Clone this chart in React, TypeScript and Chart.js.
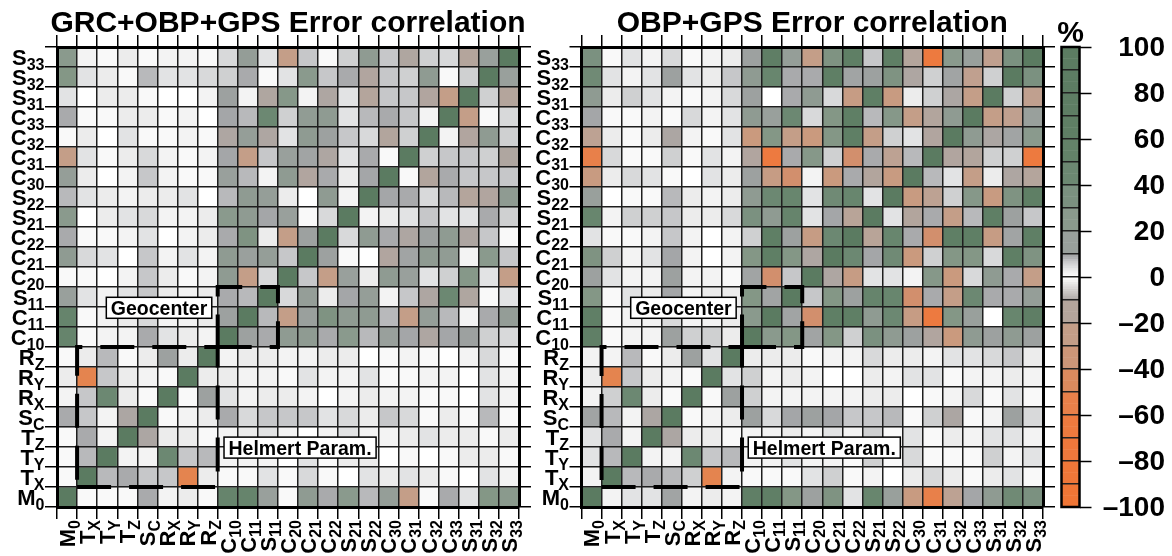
import React, { useEffect, useRef } from 'react';
import { Chart, registerables } from 'chart.js';

Chart.register(...registerables);

// ---------------- data ----------------
const PARAM_MAIN = ['M', 'T', 'T', 'T', 'S', 'R', 'R', 'R', 'C', 'C', 'S', 'C', 'C', 'C', 'S', 'S', 'C', 'C', 'C', 'C', 'S', 'S', 'S'];
const PARAM_SUB = ['0', 'X', 'Y', 'Z', 'C', 'X', 'Y', 'Z', '10', '11', '11', '20', '21', '22', '21', '22', '30', '31', '32', '33', '31', '32', '33'];

const GRC_TITLE = 'GRC+OBP+GPS Error correlation';
const OBP_TITLE = 'OBP+GPS Error correlation';

// lower triangle of the correlation matrix in %, row i = parameter i, columns 0..i
const GRC_ROWS: number[][] = [
  [100],
  [1, 100],
  [1, 8, 100],
  [1, 9, 2, 100],
  [9, 7, 2, -10, 100],
  [2, 7, 45, 3, 1, 100],
  [3, -50, 7, 3, 2, 1, 100],
  [1, 3, 8, 1, 3, 12, 3, 100],
  [50, 1, 2, 2, 9, 4, 3, 2, 100],
  [50, 1, 2, 3, 5, 2, 2, 3, 12, 100],
  [15, 4, 2, 4, 7, 3, 2, 3, 9, 8, 100],
  [1, 1, 0, 2, 7, 3, 1, 2, 22, -25, 5, 100],
  [22, 5, 4, 0, 7, 2, 4, 2, 22, 14, 17, 7, 100],
  [9, 1, 1, 2, 4, 0, 2, 3, 9, 33, 3, -25, 12, 100],
  [25, 0, 3, 4, 5, 2, 2, 3, 25, 22, 10, 15, 1, 5, 100],
  [8, 4, 3, 2, 3, 3, 4, 0, 8, 22, 17, 3, 0, 22, 2, 100],
  [17, 3, 0, 2, 7, 2, 1, 1, 15, 8, 2, 22, -13, 9, 3, 10, 100],
  [-25, 4, 1, 3, 5, 2, 1, 2, 10, -25, 7, 15, 11, -11, 4, 9, 1, 100],
  [1, 3, 0, 4, 1, 1, 2, 1, -11, 17, -11, 4, 22, 12, 7, 5, -14, 6, 100],
  [9, 1, 1, 3, 3, 1, 2, 0, 10, 8, 45, 6, 20, 22, 4, 8, 9, 7, 2, 100],
  [4, 0, 3, 3, 1, 0, 0, 2, 12, 2, -12, 28, 2, -11, 4, -15, 7, 7, -13, -25, 100],
  [30, 4, 3, 1, 8, 4, 4, 5, 6, 9, 1, 4, 25, 7, 9, -13, 7, 6, 22, 1, 6, 100],
  [25, 2, 1, 3, 1, 2, 2, 1, 5, 18, 4, -25, 7, 1, 6, 22, 7, -12, 6, 5, -15, 15, 100],
];

const OBP_ROWS: number[][] = [
  [100],
  [2, 100],
  [4, 8, 100],
  [4, 9, 2, 100],
  [11, 8, 2, -10, 100],
  [2, 6, 45, 3, 1, 100],
  [3, -50, 7, 3, 2, 1, 100],
  [2, 2, 8, 1, 3, 12, 4, 100],
  [62, 1, 2, 2, 12, 6, 6, 3, 100],
  [62, 1, 2, 2, 5, 2, 2, 3, 25, 100],
  [30, 1, 4, 3, 10, 2, 3, 3, 30, 11, 100],
  [12, 4, 2, 2, 12, 2, 2, 1, 11, -40, 7, 100],
  [33, 6, 2, 4, 10, 2, 0, 2, 30, 65, 30, -11, 100],
  [4, 1, 1, 2, 7, 2, 0, 2, 6, 65, 12, -28, 45, 100],
  [48, 2, 6, 6, 7, 3, 3, 5, 35, 22, 50, 4, 10, -17, 100],
  [15, 0, 1, 1, 8, 3, 2, 3, 22, 45, 48, 4, 42, 48, 4, 100],
  [-30, 3, 5, 4, 1, 0, 4, 3, 12, -28, -40, 2, -32, 9, -14, -30, 100],
  [-55, 5, 1, 1, 6, 1, 4, 2, -13, -62, 9, 28, 6, -40, 9, -20, 8, 100],
  [-20, 3, 1, 3, -10, 2, 1, 4, -32, 30, -25, -32, 30, 65, -25, 6, 4, -13, 100],
  [10, 1, 1, 2, 1, 5, 2, 4, 22, 15, 45, 5, 30, 65, 8, 28, -25, -14, 22, 100],
  [22, 3, 6, 4, 2, 1, 2, 5, 12, 0, 9, 22, 5, -28, 65, -30, 3, 6, -10, -25, 100],
  [42, 4, 2, 4, 12, 4, 3, 7, 22, 48, 9, 9, 65, 11, 12, 33, -11, 6, 11, -22, 6, 100],
  [35, 1, 4, 2, 5, 1, 2, 3, 12, 70, 17, -25, 33, 65, 7, 65, -15, -65, 25, 15, -22, 35, 100],
];

const COLORBAR_TICKS = [100, 80, 60, 40, 20, 0, -20, -40, -60, -80, -100];
const COLORBAR_MIN = -100;
const COLORBAR_MAX = 100;
const COLORBAR_BIN = 10;

// annotation boxes (parameter-index ranges) and their labels
const GEOCENTER_RANGE = [8, 11];
const HELMERT_RANGE = [1, 8];
const GEOCENTER_LABEL = { text: 'Geocenter', x: 5.08, y: 9.96 };
const HELMERT_LABEL = { text: 'Helmert Param.', x: 12.1, y: 2.97 };

// ---------------- style ----------------
const FONT = '"Liberation Sans", Arial, Helvetica, sans-serif';
const CMAP_STOPS: Array<[number, string]> = [
  [-100, '#ef7535'], [-62, '#ed7a40'], [-55, '#e8804a'], [-50, '#e4844f'], [-40, '#d28f6d'],
  [-32, '#ca9a7e'], [-28, '#c69c84'], [-25, '#c49e88'], [-20, '#bda293'], [-15, '#b4a59c'],
  [-10, '#aca6a3'], [0, '#ffffff'], [1, '#f9f9f9'], [2, '#f3f3f3'], [3, '#ececec'],
  [4, '#e2e3e4'], [5, '#d8d9da'], [6, '#cfd0d1'], [7, '#c6c7c9'], [8, '#b8b9bb'],
  [9, '#a9aaac'], [10, '#a4a6a8'], [12, '#9da1a0'], [15, '#99a09c'], [17, '#959e98'],
  [22, '#8f9b92'], [25, '#8a9a8d'], [30, '#849786'], [35, '#7b9180'], [42, '#708a75'],
  [45, '#6c8872'], [50, '#66846c'], [60, '#607f66'], [100, '#5b7b61'],
];

const LABEL_MAIN_PX = 22;
const LABEL_SUB_PX = 16;

function hex(h: string) {
  return [parseInt(h.slice(1, 3), 16), parseInt(h.slice(3, 5), 16), parseInt(h.slice(5, 7), 16)];
}
function cmap(v: number): string {
  const s = CMAP_STOPS;
  if (v <= s[0][0]) return s[0][1];
  for (let k = 1; k < s.length; k++) {
    if (v <= s[k][0]) {
      const t = (v - s[k - 1][0]) / (s[k][0] - s[k - 1][0]);
      const a = hex(s[k - 1][1]);
      const b = hex(s[k][1]);
      const c = a.map((q, i) => Math.round(q + (b[i] - q) * t));
      return `rgb(${c[0]},${c[1]},${c[2]})`;
    }
  }
  return s[s.length - 1][1];
}

function corr(rows: number[][], i: number, j: number) {
  return i >= j ? rows[i][j] : rows[j][i];
}

function drawSubLabel(ctx: CanvasRenderingContext2D, main: string, sub: string, x: number, y: number) {
  // right-aligned at x, main glyph vertically centred on y
  ctx.font = `bold ${LABEL_MAIN_PX}px ${FONT}`;
  const wm = ctx.measureText(main).width;
  ctx.font = `bold ${LABEL_SUB_PX}px ${FONT}`;
  const ws = ctx.measureText(sub).width;
  const x0 = x - wm - ws;
  const base = y + LABEL_MAIN_PX * 0.36;
  ctx.textAlign = 'left';
  ctx.textBaseline = 'alphabetic';
  ctx.fillStyle = '#000';
  ctx.font = `bold ${LABEL_MAIN_PX}px ${FONT}`;
  ctx.fillText(main, x0, base);
  ctx.font = `bold ${LABEL_SUB_PX}px ${FONT}`;
  ctx.fillText(sub, x0 + wm, base + 5);
}

function drawDashedBox(ctx: CanvasRenderingContext2D, xs: any, ys: any, r: number[]) {
  const x0 = xs.getPixelForValue(r[0]);
  const x1 = xs.getPixelForValue(r[1]);
  const y0 = ys.getPixelForValue(r[0]);
  const y1 = ys.getPixelForValue(r[1]);
  ctx.save();
  ctx.setLineDash([34, 18]);
  ctx.lineWidth = 4;
  ctx.strokeStyle = '#000';
  ctx.lineCap = 'butt';
  ctx.beginPath();
  ctx.moveTo(x0, y0);
  ctx.lineTo(x1, y0);
  ctx.lineTo(x1, y1);
  ctx.lineTo(x0, y1);
  ctx.lineTo(x0, y0);
  ctx.stroke();
  ctx.restore();
}

function drawBoxLabel(ctx: CanvasRenderingContext2D, text: string, cx: number, cy: number) {
  ctx.save();
  ctx.font = `bold 19.5px ${FONT}`;
  const w = ctx.measureText(text).width;
  const padX = 4.5;
  const h = 21;
  ctx.fillStyle = '#fff';
  ctx.fillRect(cx - w / 2 - padX, cy - h / 2, w + 2 * padX, h);
  ctx.strokeStyle = '#000';
  ctx.lineWidth = 1.5;
  ctx.strokeRect(cx - w / 2 - padX, cy - h / 2, w + 2 * padX, h);
  ctx.fillStyle = '#000';
  ctx.textAlign = 'center';
  ctx.textBaseline = 'alphabetic';
  ctx.fillText(text, cx, cy + 7);
  ctx.restore();
}

type Geom = { left: number; right: number; top: number; bottom: number };

function matrixConfig(rows: number[][], title: string, geom: Geom): any {
  const N = PARAM_MAIN.length;
  const cells: any[] = [];
  for (let i = 0; i < N; i++) {
    for (let j = 0; j < N; j++) {
      cells.push({ x: j + 0.5, y: [i, i + 1], v: corr(rows, i, j) });
    }
  }
  const setTicks = (s: any) => {
    s.ticks = Array.from({ length: N + 1 }, (_, k) => ({ value: k }));
  };
  const mainGrid = {
    display: true, drawOnChartArea: true, drawTicks: true, tickLength: 12,
    color: '#1e1e1e', lineWidth: 1.5, tickColor: '#000', tickWidth: 1.5, offset: false, z: 1,
  };
  const outerGrid = { ...mainGrid, drawOnChartArea: false };
  const border = { display: true, color: '#000', width: 3, z: 2 };
  const ticks = { display: false, autoSkip: false };
  const decor = {
    id: 'decor',
    afterDraw(chart: any) {
      const ctx: CanvasRenderingContext2D = chart.ctx;
      const xs = chart.scales.x;
      const ys = chart.scales.y;
      const a = chart.chartArea;
      ctx.save();
      drawDashedBox(ctx, xs, ys, HELMERT_RANGE);
      drawDashedBox(ctx, xs, ys, GEOCENTER_RANGE);
      drawBoxLabel(ctx, GEOCENTER_LABEL.text, xs.getPixelForValue(GEOCENTER_LABEL.x), ys.getPixelForValue(GEOCENTER_LABEL.y));
      drawBoxLabel(ctx, HELMERT_LABEL.text, xs.getPixelForValue(HELMERT_LABEL.x), ys.getPixelForValue(HELMERT_LABEL.y));
      // title
      ctx.fillStyle = '#000';
      ctx.font = `bold 30px ${FONT}`;
      ctx.textAlign = 'center';
      ctx.textBaseline = 'alphabetic';
      ctx.fillText(title, (a.left + a.right) / 2, 32);
      // y labels
      for (let i = 0; i < N; i++) {
        drawSubLabel(ctx, PARAM_MAIN[i], PARAM_SUB[i], a.left - 12.5, ys.getPixelForValue(i + 0.5));
      }
      // x labels (rotated)
      for (let j = 0; j < N; j++) {
        ctx.save();
        ctx.translate(xs.getPixelForValue(j + 0.5), a.bottom + 13);
        ctx.rotate(-Math.PI / 2);
        drawSubLabel(ctx, PARAM_MAIN[j], PARAM_SUB[j], 0, 0);
        ctx.restore();
      }
      ctx.restore();
    },
  };
  return {
    type: 'bar',
    data: {
      datasets: [{
        data: cells,
        backgroundColor: cells.map((c) => cmap(c.v)),
        borderWidth: 0,
        barPercentage: 1,
        categoryPercentage: 1,
        grouped: false,
      }],
    },
    options: {
      animation: false,
      responsive: false,
      maintainAspectRatio: false,
      events: [],
      layout: { padding: 0 },
      plugins: { legend: { display: false }, tooltip: { enabled: false }, title: { display: false } },
      scales: {
        x: { type: 'linear', axis: 'x', position: 'bottom', min: 0, max: N, offset: false, grid: mainGrid, border, ticks, afterBuildTicks: setTicks, afterFit: (s: any) => { s.height = geom.bottom; } },
        xTop: { type: 'linear', axis: 'x', position: 'top', min: 0, max: N, offset: false, grid: outerGrid, border, ticks, afterBuildTicks: setTicks, afterFit: (s: any) => { s.height = geom.top; } },
        y: { type: 'linear', axis: 'y', position: 'left', min: 0, max: N, offset: false, beginAtZero: false, grid: mainGrid, border, ticks, afterBuildTicks: setTicks, afterFit: (s: any) => { s.width = geom.left; } },
        yRight: { type: 'linear', axis: 'y', position: 'right', min: 0, max: N, offset: false, grid: outerGrid, border, ticks, afterBuildTicks: setTicks, afterFit: (s: any) => { s.width = geom.right; } },
      },
    },
    plugins: [decor],
  };
}

function colorbarConfig(): any {
  const rep = (v: number) => (Math.abs(v) < COLORBAR_BIN ? v : Math.sign(v) * (Math.floor(Math.abs(v) / COLORBAR_BIN) * COLORBAR_BIN + COLORBAR_BIN / 2));
  const segs: any[] = [];
  for (let v = COLORBAR_MIN; v < COLORBAR_MAX; v++) segs.push({ x: 'cb', y: [v, v + 1], c: cmap(rep(v + 0.5)) });
  const decor = {
    id: 'cbdecor',
    afterDraw(chart: any) {
      const ctx: CanvasRenderingContext2D = chart.ctx;
      const a = chart.chartArea;
      const ys = chart.scales.yR;
      ctx.save();
      ctx.strokeStyle = '#000';
      ctx.lineWidth = 2.5;
      ctx.strokeRect(a.left, a.top, a.right - a.left, a.bottom - a.top);
      ctx.fillStyle = '#000';
      ctx.font = `bold 28px ${FONT}`;
      ctx.textAlign = 'right';
      ctx.textBaseline = 'middle';
      for (const t of COLORBAR_TICKS) {
        const txt = t < 0 ? '\u2013' + Math.abs(t) : String(t);
        ctx.fillText(txt, 115, ys.getPixelForValue(t) + 1);
      }
      ctx.font = `bold 30px ${FONT}`;
      ctx.textAlign = 'center';
      ctx.textBaseline = 'alphabetic';
      ctx.fillText('%', (a.left + a.right) / 2, 42);
      ctx.restore();
    },
  };
  return {
    type: 'bar',
    data: {
      labels: ['cb'],
      datasets: [{ data: segs, backgroundColor: segs.map((s) => s.c), borderWidth: 0, barPercentage: 1, categoryPercentage: 1 }],
    },
    options: {
      animation: false,
      responsive: false,
      maintainAspectRatio: false,
      events: [],
      layout: { padding: { top: 47, bottom: 49, left: 0, right: 0 } },
      plugins: { legend: { display: false }, tooltip: { enabled: false } },
      scales: {
        x: { type: 'category', display: false },
        y: {
          type: 'linear', position: 'left', min: COLORBAR_MIN, max: COLORBAR_MAX,
          ticks: { display: false },
          afterBuildTicks: (s: any) => { s.ticks = Array.from({ length: 21 }, (_, k) => ({ value: COLORBAR_MIN + k * COLORBAR_BIN })); },
          grid: { display: true, drawOnChartArea: true, drawTicks: false, color: '#222', lineWidth: 1.5, z: 1 },
          border: { display: false },
          afterFit: (s: any) => { s.width = 11.5; },
        },
        yR: {
          type: 'linear', axis: 'y', position: 'right', min: COLORBAR_MIN, max: COLORBAR_MAX,
          ticks: { display: false },
          afterBuildTicks: (s: any) => { s.ticks = COLORBAR_TICKS.map((v) => ({ value: v })); },
          grid: { display: true, drawOnChartArea: false, drawTicks: true, tickLength: 12, tickColor: '#000', tickWidth: 1.5 },
          border: { display: false },
          afterFit: (s: any) => { s.width = 92.5; },
        },
      },
    },
    plugins: [decor],
  };
}

function ChartCanvas({ make, left, width }: { make: () => any; left: number; width: number }) {
  const ref = useRef<HTMLCanvasElement>(null);
  useEffect(() => {
    const chart = new Chart(ref.current as HTMLCanvasElement, make());
    return () => chart.destroy();
  }, []);
  return (
    <canvas ref={ref} width={width} height={556}
      style={{ position: 'absolute', left, top: 0, width, height: 556 }} />
  );
}

export default function App() {
  return (
    <div style={{ position: 'absolute', left: 0, top: 0, width: 1172, height: 556, background: '#fff', overflow: 'hidden' }}>
      <ChartCanvas make={() => matrixConfig(GRC_ROWS, GRC_TITLE, { left: 57, right: 21, top: 47, bottom: 49 })} left={0} width={540} />
      <ChartCanvas make={() => matrixConfig(OBP_ROWS, OBP_TITLE, { left: 61.5, right: 17, top: 47, bottom: 49 })} left={520} width={540} />
      <ChartCanvas make={colorbarConfig} left={1050} width={122} />
    </div>
  );
}
